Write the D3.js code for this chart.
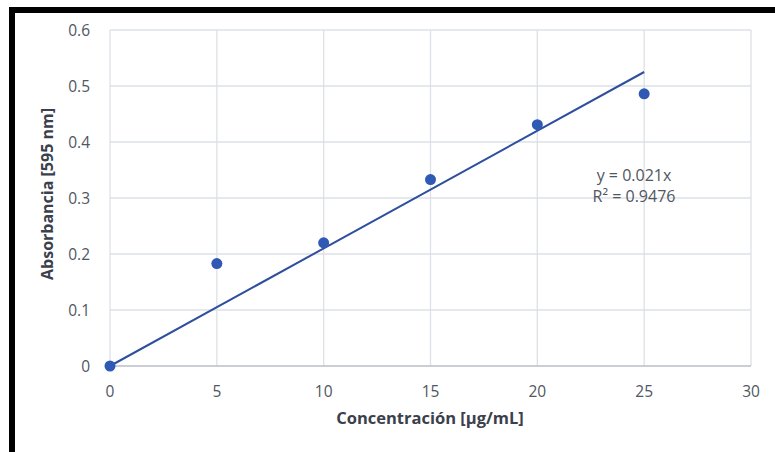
<!DOCTYPE html>
<html><head><meta charset="utf-8">
<script src="https://cdn.jsdelivr.net/npm/d3@7"></script>
<style>body{margin:0;background:#fff}svg{display:block}</style>
</head><body>
<svg id="c" width="775" height="452"></svg>
<script>
const concentration = [0, 5, 10, 15, 20, 25];
const absorbance = [0, 0.183, 0.220, 0.333, 0.431, 0.486];
const xTicks = [0, 5, 10, 15, 20, 25, 30];
const yTicks = [0, 0.1, 0.2, 0.3, 0.4, 0.5, 0.6];
const slope = 0.021;
const trendRange = [0, 25];
const eqLines = ["y = 0.021x", "R² = 0.9476"];
const xTitle = "Concentración [µg/mL]";
const yTitle = "Absorbancia [595 nm]";

const svg = d3.select("#c");
const font = "'Open Sans', sans-serif";
const x = d3.scaleLinear().domain([0, 30]).range([110, 751]);
const y = d3.scaleLinear().domain([0, 0.6]).range([366, 30]);

// frame
svg.append("rect").attr("x", 9).attr("y", 7).attr("width", 766).attr("height", 6).attr("fill", "#000");
svg.append("rect").attr("x", 9).attr("y", 7).attr("width", 6).attr("height", 445).attr("fill", "#000");

// gridlines
svg.append("g").selectAll("line").data(yTicks.filter(d => d > 0)).join("line")
  .attr("x1", x(0)).attr("x2", x(30)).attr("y1", d => y(d)).attr("y2", d => y(d))
  .attr("stroke", "#dde1e7").attr("stroke-width", 1.3);
svg.append("g").selectAll("line").data(xTicks).join("line")
  .attr("x1", d => x(d)).attr("x2", d => x(d)).attr("y1", y(0)).attr("y2", y(0.6))
  .attr("stroke", "#dde1e7").attr("stroke-width", 1.3);
// x axis line
svg.append("line").attr("x1", x(0)).attr("x2", x(30)).attr("y1", y(0)).attr("y2", y(0))
  .attr("stroke", "#b9bfc9").attr("stroke-width", 1.5);

// tick labels
svg.append("g").selectAll("text").data(yTicks).join("text")
  .attr("x", 90).attr("y", d => y(d)).attr("dy", "0.36em").attr("text-anchor", "end")
  .attr("font-family", font).attr("font-size", 15.5).attr("fill", "#505662")
  .text(d => d === 0 ? "0" : d3.format(".1f")(d));
svg.append("g").selectAll("text").data(xTicks).join("text")
  .attr("x", d => x(d)).attr("y", 397).attr("text-anchor", "middle")
  .attr("font-family", font).attr("font-size", 15.5).attr("fill", "#505662")
  .text(d => d);

// trendline
svg.append("line").attr("x1", x(trendRange[0])).attr("y1", y(slope * trendRange[0]))
  .attr("x2", x(trendRange[1])).attr("y2", y(slope * trendRange[1]))
  .attr("stroke", "#2d4f9e").attr("stroke-width", 2);

// points
svg.append("g").selectAll("circle").data(concentration).join("circle")
  .attr("cx", d => x(d)).attr("cy", (d, i) => y(absorbance[i])).attr("r", 5.5)
  .attr("fill", "#2f59b5");

// equation
svg.append("g").selectAll("text").data(eqLines).join("text")
  .attr("x", 634).attr("y", (d, i) => 181 + i * 21).attr("text-anchor", "middle")
  .attr("font-family", font).attr("font-size", 16).attr("fill", "#505662")
  .text(d => d);

// axis titles
svg.append("text").attr("x", 430).attr("y", 424).attr("text-anchor", "middle")
  .attr("font-family", font).attr("font-size", 16.5).attr("font-weight", "bold").attr("fill", "#3a404c")
  .text(xTitle);
svg.append("text").attr("transform", "translate(53,194) rotate(-90)").attr("text-anchor", "middle")
  .attr("font-family", font).attr("font-size", 16).attr("font-weight", "bold").attr("fill", "#3a404c")
  .text(yTitle);
</script>
</body></html>
